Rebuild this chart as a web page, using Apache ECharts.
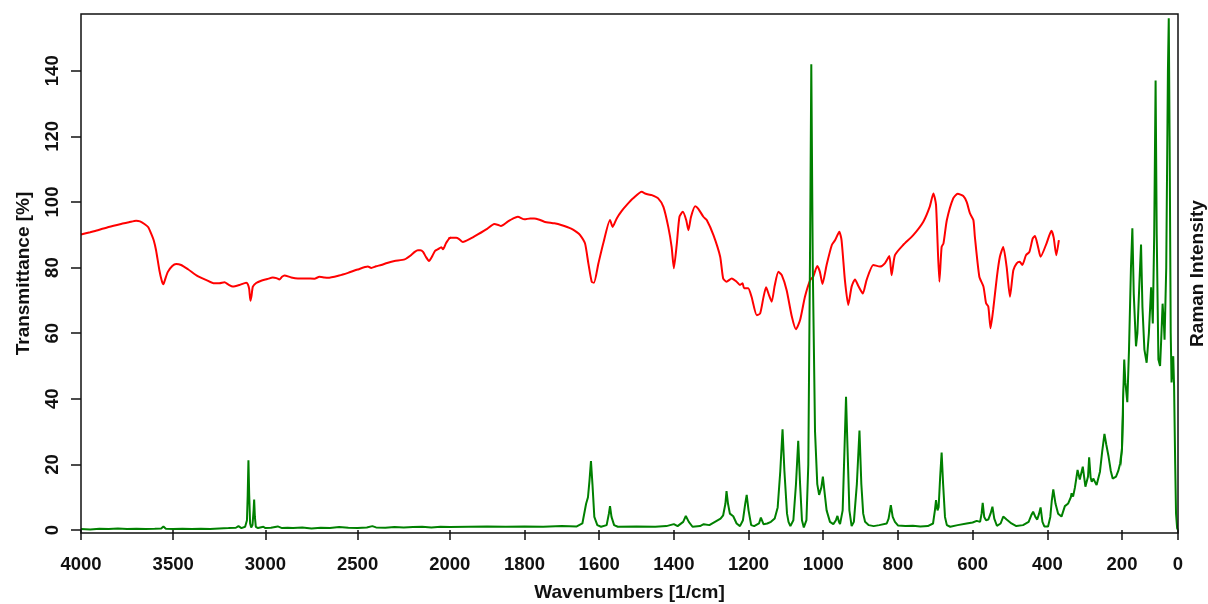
<!DOCTYPE html>
<html>
<head>
<meta charset="utf-8">
<script src="https://cdn.jsdelivr.net/npm/echarts@6/dist/echarts.min.js"></script>
<style>
html,body{margin:0;padding:0;background:#fff;}
#chart{width:1208px;height:604px;}
</style>
</head>
<body>
<div id="chart"></div>
<script>
// ---------------- DATA ----------------
// IR spectrum (red): wavenumber [1/cm] and transmittance [%]
const IR_WN = [4000,3950,3909,3850,3783,3740,3701,3680,3656,3635,3620,3605,3593,3575,3562,3553,3545,3529,3505,3484,3457,3420,3367,3320,3277,3250,3222,3200,3177,3140,3104,3095,3088,3081,3075,3068,3050,3023,2990,2960,2940,2924,2910,2897,2860,2824,2780,2734,2707,2680,2661,2600,2552,2500,2444,2426,2400,2372,2340,2300,2245,2210,2190,2173,2160,2145,2130,2113,2095,2080,2064,2046,2037,2020,1997,1983,1975,1965,1945,1925,1900,1881,1870,1863,1845,1830,1818,1800,1785,1774,1760,1747,1720,1702,1675,1660,1651,1638,1629,1620,1614,1602,1589,1571,1564,1553,1540,1526,1509,1486,1477,1468,1459,1442,1428,1415,1406,1400,1392,1385,1376,1367,1361,1354,1343,1335,1321,1312,1294,1276,1268,1259,1245,1232,1223,1216,1212,1201,1192,1178,1169,1160,1153,1145,1138,1130,1120,1111,1098,1084,1073,1062,1049,1035,1027,1016,1009,1002,991,977,968,957,951,942,933,924,915,906,894,884,866,848,835,823,817,808,786,759,732,715,705,698,689,683,678,669,652,640,625,616,607,598,594,582,571,564,558,552,545,535,527,518,509,500,491,482,474,467,457,448,439,433,424,418,402,389,383,376,369];
const IR_T = [90.1,90.8,91.4,92.4,93.3,93.8,94.3,94.1,93.3,92.3,90.4,88.2,85.3,79.2,76.0,74.9,76.2,78.7,80.5,81.1,80.8,79.5,77.4,76.2,75.2,75.2,75.5,74.8,74.2,74.7,75.4,74.9,73.5,69.9,71.5,74.2,75.3,76.0,76.5,77.0,76.8,76.4,77.2,77.6,77.0,76.7,76.7,76.6,77.2,77.0,76.9,77.6,78.4,79.4,80.3,79.9,80.4,80.8,81.4,82.0,82.5,83.8,84.8,85.3,85.3,84.8,83.3,82.0,83.5,85.1,85.6,86.2,85.6,87.5,89.1,89.1,88.7,87.8,88.8,90.1,91.8,93.3,93.0,92.7,94.0,95.0,95.5,94.7,95.0,95.0,94.6,94.0,93.5,93.0,91.9,90.8,89.9,87.4,81.3,75.7,75.4,81.3,87.4,94.5,92.4,95.0,97.2,99.1,101.1,103.1,102.6,102.3,102.1,101.1,98.5,92.4,86.3,79.8,87.4,95.5,97.0,94.5,91.4,95.5,98.7,98.0,95.5,94.5,89.9,83.3,76.7,75.7,76.7,75.7,74.7,75.2,73.7,73.7,71.1,65.5,66.0,71.0,74.0,71.5,69.6,74.5,78.7,77.7,73.1,65.0,61.2,64.0,71.1,76.2,77.2,80.5,78.7,75.0,80.8,86.9,88.4,90.9,88.4,76.2,68.6,74.2,76.4,74.4,72.1,76.2,80.8,80.3,81.3,83.5,77.7,83.8,86.9,89.9,94.0,98.5,102.6,99.1,75.7,86.3,87.4,94.5,101.1,102.5,101.8,100.0,96.5,94.5,89.4,77.2,74.2,69.1,68.1,61.5,67.1,77.2,83.3,86.3,80.3,71.1,79.2,81.3,81.8,80.8,83.8,84.8,88.9,89.6,85.9,83.3,87.4,91.2,89.2,83.8,88.4];

// Raman spectrum (green): shift [1/cm] and intensity
const RAMAN_WN = [4000,3950,3900,3850,3800,3750,3700,3650,3600,3565,3553,3540,3500,3450,3400,3350,3300,3250,3200,3160,3146,3130,3110,3100,3096,3092,3088,3083,3077,3070,3064,3061,3057,3052,3040,3011,3000,2970,2933,2910,2880,2850,2800,2750,2700,2650,2600,2550,2500,2450,2420,2400,2350,2300,2250,2200,2150,2100,2050,2000,1950,1900,1850,1800,1750,1700,1660,1645,1635,1630,1626,1622,1618,1613,1605,1595,1580,1574,1571,1567,1560,1550,1500,1450,1420,1400,1390,1375,1368,1360,1350,1330,1320,1305,1290,1275,1268,1262,1259,1255,1250,1241,1232,1223,1215,1209,1205,1200,1193,1185,1172,1167,1160,1150,1140,1130,1122,1115,1109,1104,1097,1093,1088,1080,1073,1067,1062,1057,1052,1045,1040,1035,1032,1028,1022,1016,1011,1005,1001,996,991,982,973,966,962,958,955,948,943,939,935,930,924,918,910,903,898,893,888,878,865,850,830,825,819,814,808,800,780,760,740,720,706,701,698,694,691,687,683,679,674,669,660,640,616,600,589,580,576,573,569,564,558,552,547,542,535,525,518,509,496,483,465,450,443,438,432,427,422,418,413,408,398,392,388,384,378,371,362,353,344,337,335,331,326,319,313,305,298,291,288,284,281,277,268,259,253,247,242,236,230,225,216,210,205,200,196,192,188,181,175,168,163,158,150,145,138,132,127,120,112,104,96,90,85,80,76,70,64,60,55,50,48,42,36,33,30,26,23,19,17,14,10,7,3,0];
const RAMAN_I = [0.3,0.2,0.4,0.3,0.5,0.3,0.4,0.3,0.4,0.5,1.1,0.4,0.3,0.4,0.3,0.4,0.3,0.5,0.6,0.7,1.2,0.6,1.0,3.0,10.5,21.3,11.0,2.0,0.8,1.5,6.0,9.3,4.0,1.0,0.6,1.0,0.6,0.7,1.1,0.6,0.7,0.6,0.8,0.5,0.7,0.6,0.9,0.7,0.6,0.8,1.2,0.8,0.7,0.9,0.8,0.9,1.0,0.8,1.0,0.9,1.0,1.1,1.0,1.1,1.0,1.2,1.1,2.0,8.0,10.0,15.0,21.0,14.0,4.0,1.5,1.0,1.5,5.0,7.3,4.0,1.5,1.0,1.1,1.0,1.2,1.8,1.2,2.5,4.3,2.5,1.0,1.2,1.8,1.5,2.5,3.5,4.5,8.0,11.9,8.0,5.0,4.2,2.0,1.2,3.0,8.0,10.7,6.0,1.5,1.2,2.0,3.8,1.8,2.0,2.5,3.5,6.9,18.0,30.7,18.0,5.0,2.5,1.2,3.0,14.0,27.2,14.0,3.0,0.8,3.0,20.0,90.0,142.0,80.0,30.0,14.0,10.7,13.0,16.3,11.0,6.0,2.5,1.8,3.0,4.3,2.5,1.8,6.0,25.0,40.6,25.0,6.0,1.2,2.5,14.0,30.3,14.0,5.0,2.5,1.5,1.2,1.5,2.0,3.5,7.6,4.0,2.5,1.4,1.2,1.3,1.1,1.2,2.0,6.0,9.1,6.0,7.0,16.0,23.6,14.0,4.0,1.5,1.0,1.5,2.0,2.3,2.8,2.5,5.0,8.3,4.0,3.0,3.2,5.0,7.1,3.5,1.3,2.0,4.1,3.2,2.0,1.2,1.5,2.5,4.5,5.6,4.0,3.2,5.0,6.9,2.5,1.1,1.1,4.0,9.0,12.4,8.0,5.0,4.1,7.3,8.1,10.0,11.2,10.2,13.0,18.3,15.4,19.3,13.2,16.3,22.2,16.0,14.7,15.7,13.7,17.8,24.0,29.3,26.0,22.4,18.0,15.7,16.3,18.0,20.3,25.0,40.0,52.0,45.0,39.0,55.0,80.0,92.0,72.0,56.0,60.0,75.0,87.0,68.0,55.0,51.0,60.0,74.0,63.0,90.0,137.0,90.0,52.0,50.0,58.0,69.0,62.0,58.0,80.0,140.0,156.0,120.0,60.0,45.0,50.0,53.0,44.0,20.0,5.0,0.5,0.0];

// Tick labels
const X_TICKS_HIGH = [4000, 3500, 3000, 2500];
const X_TICKS_MID = [2000, 1800, 1600, 1400, 1200, 1000, 800, 600, 400, 200];
const X_TICKS_LOW = [0];
const Y_TICKS = [0, 20, 40, 60, 80, 100, 120, 140];

// ---------------- LAYOUT ----------------
const FONT = "'Liberation Sans', Arial, Helvetica, sans-serif";
const PLOT = {left: 81, top: 14, width: 1097, height: 519};
const Y_MIN = -0.9, Y_MAX = 157.3;
// x axis is piecewise scaled: three adjoining panels
const SEGMENTS = [
  {min: 2000, max: 4000, left: 81,    width: 368.8, ticks: X_TICKS_HIGH},
  {min: 200,  max: 2000, left: 449.8, width: 672.2, ticks: X_TICKS_MID},
  {min: 0,    max: 200,  left: 1122,  width: 56,    ticks: X_TICKS_LOW}
];

const irData = IR_WN.map((w, i) => [w, IR_T[i]]);
const ramanData = RAMAN_WN.map((w, i) => [w, RAMAN_I[i]]);

const grids = [], xAxes = [], yAxes = [], series = [];
const tickStyle = {show: true, length: 10, inside: false, lineStyle: {color: '#111', width: 1.5}};
const labelStyle = {color: '#111', fontFamily: FONT, fontWeight: 'bold', fontSize: 18.5};

SEGMENTS.forEach((s, i) => {
  grids.push({left: s.left, top: PLOT.top, width: s.width, height: PLOT.height,
              show: false, outerBoundsMode: 'none', containLabel: false});
  xAxes.push({
    type: 'value', gridIndex: i, min: s.min, max: s.max, inverse: true, position: 'bottom',
    axisLine: {show: false}, splitLine: {show: false},
    axisTick: Object.assign({customValues: s.ticks}, tickStyle),
    axisLabel: Object.assign({customValues: s.ticks, margin: 22, formatter: v => String(v)}, labelStyle)
  });
  const y = {
    type: 'value', gridIndex: i, min: Y_MIN, max: Y_MAX, position: 'left',
    axisLine: {show: false}, splitLine: {show: false},
    axisTick: {show: false}, axisLabel: {show: false}
  };
  if (i === 0) {
    y.axisTick = Object.assign({customValues: Y_TICKS}, tickStyle);
    y.axisLabel = Object.assign({customValues: Y_TICKS, rotate: 90, margin: 19, formatter: v => String(v)}, labelStyle);
    y.name = 'Transmittance [%]';
    y.nameLocation = 'middle';
    y.nameRotate = 90;
    y.nameGap = 48;
    y.nameTextStyle = {color: '#111', fontFamily: FONT, fontWeight: 'bold', fontSize: 19};
  }
  yAxes.push(y);
  series.push({
    type: 'line', xAxisIndex: i, yAxisIndex: i, data: irData, showSymbol: false, symbol: 'none',
    smooth: 0.2, clip: true, lineStyle: {color: '#ff0000', width: 2}, itemStyle: {color: '#ff0000'},
    z: 2, silent: true
  });
  series.push({
    type: 'line', xAxisIndex: i, yAxisIndex: i, data: ramanData, showSymbol: false, symbol: 'none',
    smooth: false, clip: true, lineStyle: {color: '#008000', width: 2}, itemStyle: {color: '#008000'},
    z: 3, silent: true
  });
});

// frame panel: box, x title, right title
const F = SEGMENTS.length;
grids.push({left: PLOT.left, top: PLOT.top, width: PLOT.width, height: PLOT.height,
            show: true, borderColor: '#111', borderWidth: 1.5, backgroundColor: 'transparent',
            outerBoundsMode: 'none', containLabel: false, z: 4});
xAxes.push({
  type: 'value', gridIndex: F, min: 0, max: 1, position: 'bottom',
  axisLine: {show: false}, axisTick: {show: false}, axisLabel: {show: false}, splitLine: {show: false},
  name: 'Wavenumbers [1/cm]', nameLocation: 'middle', nameGap: 50,
  nameTextStyle: {color: '#111', fontFamily: FONT, fontWeight: 'bold', fontSize: 19}
});
yAxes.push({
  type: 'value', gridIndex: F, min: 0, max: 1, position: 'right',
  axisLine: {show: false}, axisTick: {show: false}, axisLabel: {show: false}, splitLine: {show: false},
  name: 'Raman Intensity', nameLocation: 'middle', nameRotate: 90, nameGap: 10,
  nameTextStyle: {color: '#111', fontFamily: FONT, fontWeight: 'bold', fontSize: 19}
});

const chart = echarts.init(document.getElementById('chart'), null, {renderer: 'canvas'});
chart.setOption({
  animation: false,
  backgroundColor: '#ffffff',
  grid: grids,
  xAxis: xAxes,
  yAxis: yAxes,
  series: series
});
</script>
</body>
</html>
